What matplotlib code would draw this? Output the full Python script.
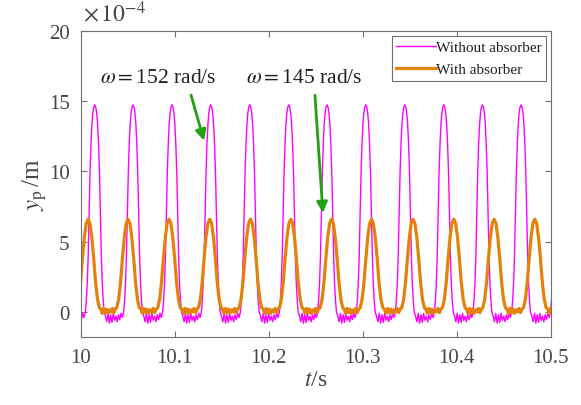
import numpy as np
import matplotlib
matplotlib.use("Agg")
import matplotlib.pyplot as plt

plt.rcParams['font.family'] = ['Liberation Serif', 'DejaVu Serif']
plt.rcParams['mathtext.fontset'] = 'stix'

# peak times (s)
peaks_without = [9.9735, 10.0149, 10.0556, 10.0971, 10.1383, 10.1798, 10.2213,
                 10.2620, 10.3032, 10.3447, 10.3862, 10.4273, 10.4684, 10.5097]
peaks_with = [9.9645, 10.0078, 10.0503, 10.0939, 10.1372, 10.1805, 10.2234,
              10.2667, 10.3093, 10.3535, 10.3968, 10.4397, 10.4830, 10.5263]

# one pulse, half shape (offset from peak in s, value in 1e-4 m)
pulse_without_dt = [0.0, 0.001, 0.002, 0.003, 0.004, 0.005, 0.006, 0.007, 0.008, 0.009, 0.010]
pulse_without_y = [14.75, 14.6, 14.2, 13.4, 12.0, 10.0, 7.0, 4.0, 2.0, 0.8, 0.0]
pulse_with_dt = [0.0, 0.002, 0.004, 0.006, 0.008, 0.010, 0.012]
pulse_with_y = [6.6, 6.3, 5.3, 3.8, 2.1, 0.9, 0.3]

# ripple between pulses
ripple_without = [-0.3, -0.7, -0.1, -0.8, -0.2, -0.75, -0.1, -0.6, -0.3, -0.7,
                  -0.2, -0.55, -0.1, -0.4]
ripple_with = [0.2, -0.1, 0.25, -0.05, 0.2, -0.1, 0.15, 0.0, 0.25, -0.05, 0.2]


def build(peaks, dt, y, ripple):
    dt = np.array(dt)
    y = np.array(y)
    half_t = np.concatenate([-dt[::-1], dt[1:]])
    half_y = np.concatenate([y[::-1], y[1:]])
    ts, ys = [], []
    for i, p in enumerate(peaks):
        ts.append(p + half_t)
        ys.append(half_y)
        if i < len(peaks) - 1:
            a = p + dt[-1]
            b = peaks[i + 1] - dt[-1]
            tt = np.linspace(a, b, len(ripple) + 2)[1:-1]
            ts.append(tt)
            ys.append(np.array(ripple))
    return np.concatenate(ts), np.concatenate(ys)


t1, y1 = build(peaks_without, pulse_without_dt, pulse_without_y, ripple_without)
t2, y2 = build(peaks_with, pulse_with_dt, pulse_with_y, ripple_with)

fig = plt.figure(figsize=(5.81, 4.06), dpi=100)
ax = fig.add_axes([0.139, 0.167, 0.809, 0.754])

ax.plot(t1, y1, color='#ff00ff', lw=1.0, label='Without absorber')
ax.plot(t2, y2, color='#e3820a', lw=2.3, label='With absorber')

ax.set_xlim(10, 10.5)
ax.set_ylim(-1.8, 20)
ax.set_xticks([10, 10.1, 10.2, 10.3, 10.4, 10.5])
ax.set_xticklabels(['10', '10.1', '10.2', '10.3', '10.4', '10.5'])
ax.set_yticks([0, 5, 10, 15, 20])

txt = '#454545'
for s in ax.spines.values():
    s.set_color('#707070')
    s.set_linewidth(0.8)
ax.tick_params(direction='in', top=True, right=True, labelsize=15,
               colors='#707070', labelcolor=txt, length=4, pad=8)

ax.set_xlabel(r'$t$/s', fontsize=17, color=txt, labelpad=1)
ax.set_ylabel(r'$y_{\mathrm{p}}\,$/m', fontsize=18, color=txt, labelpad=0)
fig.text(0.142, 0.935, r'$\times\,10^{-4}$', fontsize=17, color=txt, ha='left', va='bottom')

green = '#22a012'
ax.text(10.02, 16.7, r'$\omega=$152 rad/s', fontsize=15.5, color='#202020', va='center')
ax.text(10.176, 16.7, r'$\omega=$145 rad/s', fontsize=15.5, color='#202020', va='center')
ax.annotate('', xy=(10.1319, 12.0), xytext=(10.1165, 15.63),
            arrowprops=dict(arrowstyle='-|>', color=green, lw=2, mutation_scale=16))
ax.annotate('', xy=(10.2578, 6.85), xytext=(10.2489, 15.63),
            arrowprops=dict(arrowstyle='-|>', color=green, lw=2, mutation_scale=16))

leg = ax.legend(loc='upper right', fontsize=11, fancybox=False, framealpha=1,
                edgecolor='#707070', borderpad=0.3, handlelength=2.6,
                handletextpad=0.0, labelspacing=0.55, borderaxespad=0.3)
leg.get_frame().set_linewidth(0.8)
for t in leg.get_texts():
    t.set_color('#202020')

fig.savefig('out.png', dpi=100)
